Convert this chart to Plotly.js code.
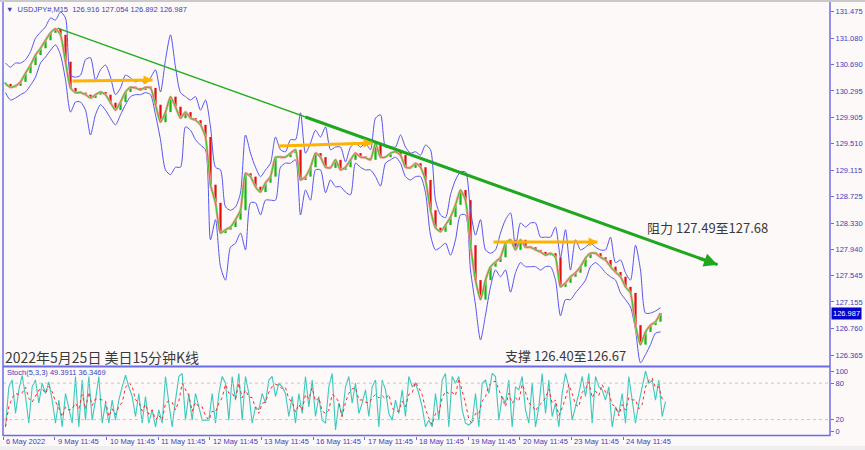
<!DOCTYPE html>
<html><head><meta charset="utf-8">
<script src="https://cdn.plot.ly/plotly-3.0.1.min.js"></script>
<style>html,body{margin:0;padding:0;background:#fdf9f8;overflow:hidden}#chart{width:865px;height:450px}
#topline{position:absolute;left:0;top:0;width:865px;height:2px;background:#c9c9c9}
#botline{position:absolute;left:0;top:446px;width:865px;height:4px;background:#efefef}</style>
</head><body><div id="chart"></div><div id="topline"></div><div id="botline"></div>
<script>
const closes = [
130.40,130.35,130.37,130.43,130.56,130.68,130.83,130.93,131.05,131.16,
131.22,131.13,130.73,130.34,130.27,130.27,130.24,130.19,130.24,130.28,
130.24,130.12,130.01,130.13,130.28,130.35,130.34,130.31,130.35,130.34,
130.09,129.83,129.98,130.21,130.06,129.89,129.98,129.89,129.86,129.79,
129.61,128.90,128.63,128.18,128.23,128.27,128.38,128.52,129.07,129.02,
128.87,128.79,128.93,129.02,129.31,129.31,129.31,129.37,129.42,128.97,
129.02,129.16,129.37,129.31,129.16,129.15,129.27,129.12,129.16,129.27,
129.37,129.31,129.30,129.27,129.52,129.31,129.31,129.37,129.39,129.34,
129.16,129.15,129.22,129.16,128.97,128.52,128.26,128.20,128.30,128.42,
128.60,128.82,128.67,128.00,127.48,127.19,127.48,127.68,127.75,127.82,
128.03,128.08,127.93,128.08,127.97,127.97,127.93,127.90,127.85,127.88,
127.82,127.38,127.44,127.53,127.59,127.68,127.81,127.88,127.88,127.82,
127.78,127.68,127.60,127.53,127.38,127.29,126.81,126.52,126.71,126.81,
126.86,126.99];
const upperBand = [
130.71,130.65,130.71,130.71,130.76,130.88,131.08,131.17,131.25,131.38,
131.35,131.47,131.38,130.53,130.50,130.53,130.76,130.79,130.46,130.61,
130.68,130.50,130.24,130.34,130.53,130.49,130.43,130.46,130.41,130.49,
130.61,130.28,130.76,131.13,130.65,130.27,130.21,130.16,130.21,130.01,
130.16,129.76,129.16,129.12,128.57,128.52,128.57,128.78,129.64,129.37,
129.16,129.02,129.12,129.22,129.61,129.42,129.39,129.57,129.57,129.97,
129.37,129.52,129.71,129.61,129.76,129.42,129.46,129.46,129.24,129.46,
129.52,129.46,129.52,129.42,129.89,129.94,129.46,129.46,129.46,129.64,
129.46,129.37,129.39,129.34,129.49,129.42,128.67,128.45,128.41,128.75,
128.97,129.09,129.09,128.52,128.15,128.38,127.93,127.88,127.93,128.18,
128.38,128.48,127.97,128.33,128.27,128.33,128.33,128.12,128.12,128.12,
128.27,127.82,128.23,127.63,128.08,127.93,127.97,128.03,127.97,127.93,
127.93,128.12,127.74,127.78,127.59,127.48,128.00,127.63,126.99,126.99,
127.02,127.07];
const lowerBand = [
130.27,130.16,130.19,130.24,130.28,130.38,130.50,130.71,130.80,130.90,
130.98,130.83,130.46,129.98,130.13,130.13,130.01,129.64,129.94,130.09,
130.01,129.89,129.79,129.94,130.09,130.21,130.24,130.24,130.27,130.24,
129.94,129.57,129.12,129.05,129.16,129.16,129.76,129.71,129.57,129.49,
129.42,128.08,128.38,127.68,127.48,127.97,128.03,128.18,127.93,128.63,
128.63,128.45,128.67,128.67,128.67,129.16,129.22,129.22,129.27,128.45,
128.82,128.67,129.12,129.12,128.78,128.97,128.87,128.87,128.79,128.75,
129.22,129.16,129.12,129.12,129.02,128.88,129.22,129.27,129.31,129.22,
129.02,128.97,129.02,129.02,128.78,128.15,127.93,127.97,128.03,127.85,
128.08,128.45,128.45,127.63,127.11,126.59,126.96,127.38,127.63,127.53,
127.63,127.30,127.59,127.74,127.68,127.68,127.68,127.63,127.68,127.68,
127.48,126.95,127.19,127.19,127.29,127.38,127.48,127.68,127.74,127.68,
127.59,127.53,127.48,127.29,127.19,127.08,126.74,126.25,126.37,126.52,
126.69,126.71];
const stochMain = [
8,74,85,30,69,93,58,14,74,85, 47,80,63,82,52,14,52,8,63,36,
14,91,8,85,19,91,19,52,91,14, 47,14,52,19,52,74,93,74,58,25,
63,14,58,14,36,8,36,14,91,47, 8,52,91,96,19,63,19,63,41,19,
19,19,63,14,63,91,80,19,91,52, 96,19,91,63,14,41,36,63,47,85,
91,58,80,74,63,25,58,14,63,30, 91,41,85,25,58,19,14,74,96,3,
47,25,74,91,47,80,30,47,69,25, 74,85,8,85,69,30,19,52,30,69,
25,91,74,80,63,41,8,19,8,63, 19,
85,96,8,91,80,91,36,14,11,16, 63,8,80,85,63,96,91,19,58,47,
85,8,74,69,91,36,14,80,8,41, 96,30,85,25,47,8,63,96,74,19,
41,63,91,58,96,14,91,74,69,52, 74,8,41,30,63,14,91,52,14,47,
74,100,80,85,52,85,25,49.39];
const dayLabels = ['6 May 2022','9 May 11:45','10 May 11:45','11 May 11:45','12 May 11:45','13 May 11:45',
  '16 May 11:45','17 May 11:45','18 May 11:45','19 May 11:45','20 May 11:45','23 May 11:45','24 May 11:45'];
const priceTicks = [131.475,131.080,130.690,130.295,129.905,129.510,129.115,128.725,128.330,127.940,127.545,127.155,126.760,126.365];
const stochTicks = [100,80,20,0];
const trendBars = [10.4, 142.4];
const trendPrices = [131.23, 127.71];
const levelBars = [[13.4,29.4],[54.6,73.4],[97.6,118.4]];
const levelPrices = [[130.444,130.459],[129.476,129.521],[128.048,128.048]];
const lastPrice = 126.987;

const barsPerDay = 10.33;
const xs = closes.map((_, i) => i);
const opens = closes.map((c, i) => i === 0 ? c : closes[i - 1]);
const sx = stochMain.map((_, j) => j * 2 / 3);
const stochSig = stochMain.map((v, j) => {
  const a = stochMain.slice(Math.max(0, j - 2), j + 1);
  return a.reduce((s, x) => s + x, 0) / a.length;
});
const tickPos = dayLabels.map((_, k) => k * barsPerDay - 0.46);

// candle bodies as thin bars
const bodyBase = closes.map((c, i) => Math.min(c, opens[i]));
const bodyLen = closes.map((c, i) => Math.max(Math.abs(c - opens[i]), 0.02));
const bodyCol = closes.map((c, i) => c >= opens[i] ? '#14b814' : '#e01010');

const blue = '#5555ee', axisBlue = '#6b6be6', txtBlue = '#3d3dbd';
const fnt = 'Liberation Sans, Arial, sans-serif';
const cjk = '"Noto Sans CJK SC", "Noto Sans", sans-serif';

const tAt = b => trendPrices[0] + (b - trendBars[0]) * (trendPrices[1] - trendPrices[0]) / (trendBars[1] - trendBars[0]);

const traces = [
  {x: xs, y: upperBand, type: 'scatter', mode: 'lines', line: {color: blue, width: 1, shape: 'spline', smoothing: 0.7}, hoverinfo: 'skip'},
  {x: xs, y: lowerBand, type: 'scatter', mode: 'lines', line: {color: blue, width: 1, shape: 'spline', smoothing: 0.7}, hoverinfo: 'skip'},
  {x: xs, y: closes, type: 'scatter', mode: 'lines', line: {color: '#ff9a9a', width: 2.5, shape: 'spline', smoothing: 0.5}, hoverinfo: 'skip'},
  {x: xs, y: bodyLen, base: bodyBase, type: 'bar', width: 0.45, marker: {color: bodyCol, line: {width: 0}}, hoverinfo: 'skip'},
  {x: xs, y: closes, type: 'scatter', mode: 'lines', line: {color: '#22cc22', width: 1, shape: 'spline', smoothing: 0.5}, hoverinfo: 'skip'},
  {x: trendBars, y: trendPrices, type: 'scatter', mode: 'lines', line: {color: '#20ad20', width: 1.5}, hoverinfo: 'skip'},
  {x: [60, trendBars[1]], y: [tAt(60), trendPrices[1]], type: 'scatter', mode: 'lines', line: {color: '#1fa81f', width: 3}, hoverinfo: 'skip'},
];
levelBars.forEach((b, k) => traces.push({x: b, y: levelPrices[k], type: 'scatter', mode: 'lines',
  line: {color: '#ffb300', width: 3}, hoverinfo: 'skip'}));
traces.push({x: sx, y: stochMain, xaxis: 'x', yaxis: 'y2', type: 'scatter', mode: 'lines', line: {color: '#3cc9bd', width: 1.1}, hoverinfo: 'skip'});
traces.push({x: sx, y: stochSig, xaxis: 'x', yaxis: 'y2', type: 'scatter', mode: 'lines', line: {color: '#ff2a2a', width: 1, dash: 'dot'}, hoverinfo: 'skip'});

const annotations = [
  {xref: 'paper', yref: 'paper', x: 0, y: 0.9884, xanchor: 'left', yanchor: 'middle', xshift: 1, showarrow: false,
   text: '▼  USDJPY#,M15  126.916 127.054 126.892 126.987', font: {family: fnt, size: 7.5, color: txtBlue}},
  {xref: 'paper', yref: 'paper', x: 0, y: 0.148, xanchor: 'left', yanchor: 'middle', xshift: 2, showarrow: false,
   text: 'Stoch(5,3,3) 49.3911 36.3469', font: {family: fnt, size: 7.5, color: txtBlue}},
  {xref: 'paper', yref: 'paper', x: 0.776, y: 0.4815, xanchor: 'left', yanchor: 'middle', showarrow: false,
   text: '阻力 127.49至127.68', font: {family: cjk, size: 13, color: '#3a3a3a'}},
  {xref: 'paper', yref: 'paper', x: 0.6046, y: 0.1852, xanchor: 'left', yanchor: 'middle', showarrow: false,
   text: '支撑 126.40至126.67', font: {family: cjk, size: 13, color: '#3a3a3a'}},
  {xref: 'paper', yref: 'paper', x: 0.0, y: 0.183, xanchor: 'left', yanchor: 'middle', showarrow: false, xshift: 0,
   text: '2022年5月25日 美日15分钟K线', font: {family: cjk, size: 14, color: '#3a3a3a'}},
  {xref: 'paper', yref: 'y', x: 1, y: lastPrice, xanchor: 'left', yanchor: 'middle', xshift: 1, showarrow: false,
   text: lastPrice.toFixed(3), bgcolor: '#0000c8', borderpad: 1, font: {family: fnt, size: 7.5, color: '#ffffff'}},
  {xref: 'x', yref: 'y', x: trendBars[1], y: trendPrices[1], ax: -20, ay: -7.2, showarrow: true, text: '',
   arrowhead: 2, arrowsize: 0.9, arrowwidth: 3, arrowcolor: '#1fa81f', standoff: 0},
];
levelBars.forEach((b, k) => annotations.push({xref: 'x', yref: 'y', x: b[1], y: levelPrices[k][1], ax: -10, ay: 0,
  showarrow: true, text: '', arrowhead: 2, arrowsize: 0.6, arrowwidth: 3, arrowcolor: '#ffb300', standoff: 0}));
dayLabels.forEach((t, k) => annotations.push({xref: 'x', yref: 'paper', x: tickPos[k], y: -0.0125, xanchor: 'left', yanchor: 'middle',
  xshift: 1, showarrow: false, text: t, font: {family: fnt, size: 7.5, color: txtBlue}}));

const shapes = [
  {type: 'line', xref: 'paper', yref: 'y2', x0: 0, x1: 1, y0: 80, y1: 80, line: {color: '#c8c8c8', width: 1, dash: 'dot'}},
  {type: 'line', xref: 'paper', yref: 'y2', x0: 0, x1: 1, y0: 20, y1: 20, line: {color: '#c8c8c8', width: 1, dash: 'dot'}},
  {type: 'line', xref: 'paper', yref: 'paper', x0: 0, x1: 1, y0: 0.1609, y1: 0.1609, line: {color: axisBlue, width: 2}},
  {type: 'line', xref: 'paper', yref: 'paper', x0: 0, x1: 1, y0: 0.001, y1: 0.001, line: {color: axisBlue, width: 1.5}},
  {type: 'line', xref: 'paper', yref: 'paper', x0: 0, x1: 0, y0: 0, y1: 1.01, line: {color: axisBlue, width: 1.5}},
  {type: 'line', xref: 'paper', yref: 'paper', x0: 1, x1: 1, y0: 0, y1: 1.01, line: {color: axisBlue, width: 1.5}},
];

const layout = {
  width: 865, height: 450,
  margin: {l: 3, r: 35, t: 4, b: 14, pad: 0},
  paper_bgcolor: '#fdf9f8', plot_bgcolor: '#fdf9f8',
  showlegend: false, barmode: 'overlay',
  xaxis: {range: [-0.5, 164.9], anchor: 'y2', showgrid: false, zeroline: false, showline: false,
    tickvals: tickPos, ticktext: dayLabels.map(() => ''), ticks: 'outside', ticklen: 3, tickcolor: axisBlue,
    fixedrange: true},
  yaxis: {domain: [0.16204, 1], range: [126.202, 131.589], side: 'right', anchor: 'x', showgrid: false, zeroline: false,
    tickvals: priceTicks, ticktext: priceTicks.map(v => v.toFixed(3)), ticks: 'outside', ticklen: 3, tickcolor: axisBlue,
    tickfont: {family: fnt, size: 7.5, color: txtBlue}, showline: false},
  yaxis2: {domain: [0, 0.1597], range: [-7.08, 106.6], side: 'right', anchor: 'x', showgrid: false, zeroline: false,
    tickvals: stochTicks, ticktext: stochTicks.map(String), ticks: 'outside', ticklen: 3, tickcolor: axisBlue,
    tickfont: {family: fnt, size: 7.5, color: txtBlue}, showline: false},
  annotations: annotations,
  shapes: shapes,
};
Plotly.newPlot('chart', traces, layout, {staticPlot: true, displayModeBar: false});
</script></body></html>
